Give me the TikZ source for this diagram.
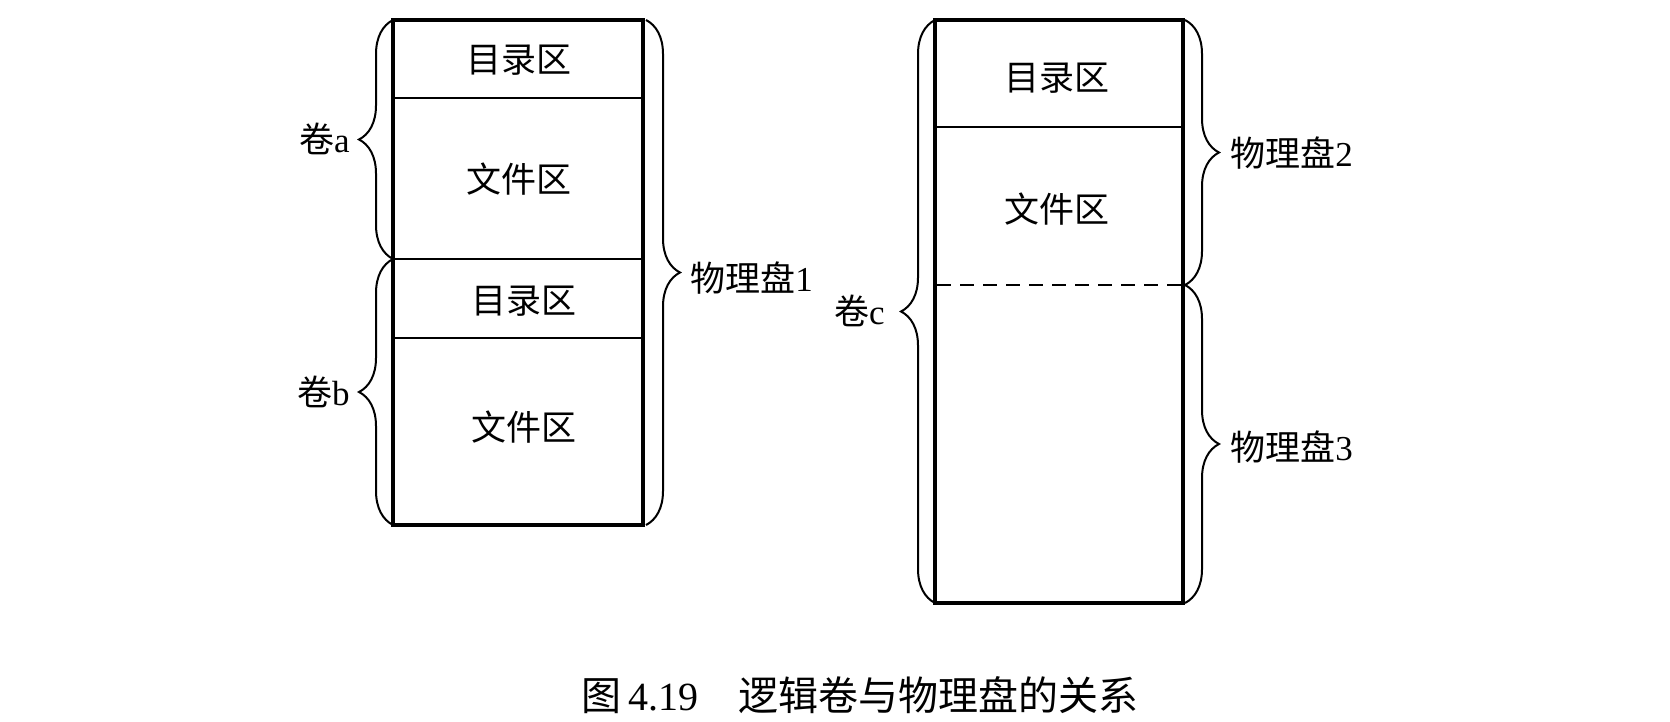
\documentclass[tikz,border=0pt]{standalone}
\usepackage{fontspec}
\setmainfont{Liberation Serif}
\newfontfamily\cjk{Noto Sans CJK SC}
\usetikzlibrary{decorations.pathreplacing}
\begin{document}
\begin{tikzpicture}[x=0.5pt,y=-0.5pt,
  outer/.style={line width=1.7pt},
  divider/.style={line width=1pt},
  brc/.style={decorate, decoration={brace, amplitude=17pt}, line width=1pt},
  zone/.style={font=\cjk\fontsize{17.5}{20}\selectfont, inner sep=0pt},
  lbl/.style={font=\fontsize{17.5}{20}\selectfont, inner sep=0pt},
  captext/.style={font=\fontsize{20}{24}\selectfont, inner sep=0pt}]
\useasboundingbox (0,0) rectangle (1670,722);
% named corners
\coordinate (L1) at (393,20);
\coordinate (L2) at (643,525);
\coordinate (R1) at (935,20);
\coordinate (R2) at (1183,603);
% left disk
\draw[outer] (L1) rectangle (L2);
\draw[divider] (393,98) -- (643,98);
\draw[divider] (393,259) -- (643,259);
\draw[divider] (393,338) -- (643,338);
% right disk
\draw[outer] (R1) rectangle (R2);
\draw[divider] (935,127) -- (1183,127);
\draw[line width=1.3pt, dash pattern=on 7pt off 4.5pt] (937,285) -- (1183,285);
% zone texts
\node[zone] (d1) at (519,60) {目录区};
\node[zone] (f1) at (519,179) {文件区};
\node[zone] (d2) at (524,301) {目录区};
\node[zone] (f2) at (524,427) {文件区};
\node[zone] (d3) at (1057,78) {目录区};
\node[zone] (f3) at (1057,209) {文件区};
% braces
\draw[brc] (393,259) -- (393,20);
\draw[brc] (393,525) -- (393,259);
\draw[brc] (646,20) -- (646,525);
\draw[brc] (935,603) -- (935,20);
\draw[brc] (1185,20) -- (1185,285);
\draw[brc] (1185,285) -- (1185,603);
% labels
\node[lbl, anchor=east] (va) at (350,139) {{\cjk 卷}a};
\node[lbl, anchor=east] (vb) at (350,392) {{\cjk 卷}b};
\node[lbl, anchor=east] (vc) at (885,311) {{\cjk 卷}c};
\node[lbl, anchor=west] (p1) at (690,278) {{\cjk 物理盘}1};
\node[lbl, anchor=west] (p2) at (1230,153) {{\cjk 物理盘}2};
\node[lbl, anchor=west] (p3) at (1230,447) {{\cjk 物理盘}3};
% caption
\node[captext] (cap) at (860,695) {{\cjk 图}\,4.19\hspace{1em}{\cjk 逻辑卷与物理盘的关系}};
\end{tikzpicture}
\end{document}
